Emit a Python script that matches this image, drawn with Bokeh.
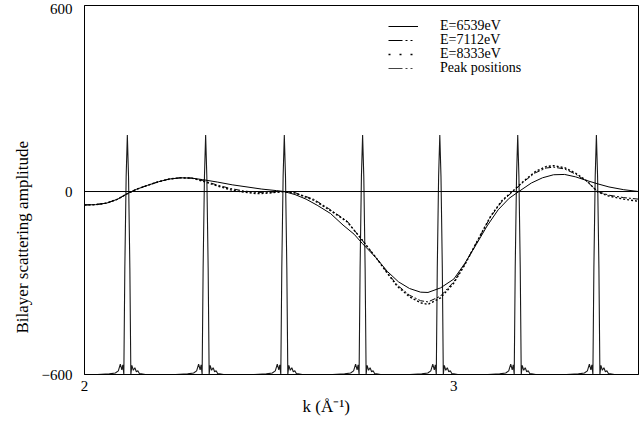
import numpy as np
from bokeh.plotting import figure
from bokeh.models import Range1d, FixedTicker, Span, Legend, LegendItem, Title
from bokeh.embed import file_html
from bokeh.resources import INLINE

# ---------------- data ----------------
k_6539 = [2.00, 2.03, 2.06, 2.09, 2.116, 2.14, 2.17, 2.20, 2.23, 2.26, 2.29, 2.32, 2.36,
          2.40, 2.44, 2.48, 2.52, 2.54, 2.57, 2.60, 2.63, 2.666, 2.70, 2.73, 2.752, 2.79,
          2.82, 2.85, 2.88, 2.91, 2.93, 2.964, 3.00, 3.03, 3.06, 3.09, 3.12, 3.15, 3.176,
          3.21, 3.24, 3.27, 3.30, 3.33, 3.36, 3.39, 3.42, 3.46, 3.50]
a_6539 = [-44, -43, -38, -25, -7, 7, 20, 32, 41, 45, 44, 39, 31,
          22, 15, 8, 3, 0, -10, -25, -45, -72, -110, -140, -170, -218,
          -262, -296, -318, -330, -331, -316, -287, -235, -175, -113, -60, -22, 0,
          28, 45, 55, 56, 48, 36, 25, 15, 6, 0]

k_7112 = [2.00, 2.03, 2.06, 2.09, 2.116, 2.14, 2.17, 2.20, 2.23, 2.26, 2.29, 2.32, 2.36,
          2.395, 2.43, 2.468, 2.50, 2.54, 2.57, 2.62, 2.66, 2.711, 2.752, 2.79, 2.82, 2.847,
          2.88, 2.91, 2.93, 2.964, 3.00, 3.03, 3.06, 3.10, 3.13, 3.16, 3.19, 3.22, 3.25,
          3.27, 3.30, 3.33, 3.36, 3.39, 3.42, 3.46, 3.50]
a_7112 = [-44, -43, -38, -25, -7, 7, 20, 32, 41, 45, 44, 36, 21,
          10, 2, -3, -2, 0, -4, -25, -55, -97, -160, -218, -266, -307,
          -340, -358, -362, -343, -296, -238, -170, -82, -33, 0, 33, 61, 77,
          80, 74, 57, 33, 0, -12, -20, -25]

k_8333 = [2.00, 2.03, 2.06, 2.09, 2.116, 2.14, 2.17, 2.20, 2.23, 2.26, 2.29, 2.32, 2.36,
          2.395, 2.43, 2.468, 2.50, 2.54, 2.57, 2.62, 2.66, 2.711, 2.752, 2.79, 2.82, 2.847,
          2.88, 2.91, 2.93, 2.964, 3.00, 3.03, 3.06, 3.10, 3.13, 3.158, 3.19, 3.22, 3.25,
          3.27, 3.30, 3.33, 3.36, 3.39, 3.42, 3.46, 3.50]
a_8333 = [-44, -43, -38, -25, -7, 7, 20, 32, 41, 45, 44, 34, 18,
          6, -2, -7, -5, 0, -5, -28, -58, -99, -159, -218, -268, -311,
          -345, -365, -370, -349, -300, -240, -170, -80, -30, 0, 35, 65, 82,
          85, 78, 60, 35, -2, -15, -25, -32]

# Bragg peak positions and the spike profile around each one
peak_k = [2.116, 2.328, 2.541, 2.753, 2.962, 3.173, 3.386]
peak_offset = [-0.0812, -0.0487, -0.0325, -0.0244, -0.0190, -0.0149, -0.0122, -0.0095,
               -0.0068, -0.0032, 0.0, 0.0032, 0.0068, 0.0095, 0.0122, 0.0162, 0.0203,
               0.0244, 0.0284, 0.0325, 0.0379, 0.0487, 0.0812]
peak_profile = [-600, -598, -595, -588, -566, -585, -568, -600,
                -250, 50, 185, 50, -250, -600, -570, -586, -578,
                -591, -588, -597, -598, -600, -600]
peak_baseline = -600

k_range = (2.0, 3.5)
amp_range = (-600, 610)
x_ticks = [2, 3]
y_ticks = [-600, 0, 600]

labels = ["E=6539eV", "E=7112eV", "E=8333eV", "Peak positions"]

# ---------------- figure ----------------
FONT = "Liberation Serif"

p = figure(width=639, height=423, x_range=Range1d(*k_range), y_range=Range1d(*amp_range),
           output_backend="svg", toolbar_location=None,
           min_border_left=84, min_border_right=1, min_border_top=5, min_border_bottom=49)
p.background_fill_color = "white"
p.border_fill_color = "white"
p.outline_line_color = "black"
p.outline_line_width = 1
p.grid.visible = False

for ax, ticks, standoff in ((p.xaxis[0], x_ticks, 6), (p.yaxis[0], y_ticks, 12)):
    ax.ticker = FixedTicker(ticks=ticks)
    ax.major_tick_in = 0
    ax.major_tick_out = 0
    ax.minor_tick_in = 0
    ax.minor_tick_out = 0
    ax.axis_line_color = "black"
    ax.major_label_standoff = standoff
    ax.major_label_text_font = FONT
    ax.major_label_text_font_size = "15px"
    ax.major_label_text_color = "black"

# peak-position spikes
px, py = [k_range[0]], [peak_baseline]
for pk in peak_k:
    px += [pk + o for o in peak_offset]
    py += peak_profile
px.append(k_range[1])
py.append(peak_baseline)
p.line(px, py, line_color="#1a1a1a", line_width=1.1)

# scattering amplitude curves
p.line(k_6539, a_6539, line_color="black", line_width=1)
p.line(k_7112, a_7112, line_color="black", line_width=1, line_dash="6 2 2 2")
p.line(k_8333, a_8333, line_color="black", line_width=1.4, line_dash="2 2")

p.add_layout(Span(location=0, dimension="width", line_color="black", line_width=1))

# legend key samples (drawn only in the legend), one compact row each
nan = [np.nan]
keys = [
    p.line(nan, nan, line_color="black", line_width=1),
    p.line(nan, nan, line_color="black", line_width=1, line_dash="14 3 2 3 2 6"),
    p.line(nan, nan, line_color="black", line_width=1.5, line_dash="2 9"),
    p.line(nan, nan, line_color="#444444", line_width=1, line_dash="14 3 2 3 2 6"),
]
row_offsets = [340, 326, 312, 298]
for text, r, vy in zip(labels, keys, row_offsets):
    p.add_layout(Legend(items=[LegendItem(label=text, renderers=[r])],
                        location=(304, vy), border_line_color=None,
                        background_fill_alpha=0, padding=0, margin=0, spacing=0,
                        glyph_width=30, glyph_height=12, label_height=12,
                        label_standoff=22, label_text_font=FONT,
                        label_text_font_size="14px", label_text_line_height=1.0,
                        label_text_color="black"))

# axis titles
p.add_layout(Title(text="k (Å⁻¹)", align="left", offset=218, text_font=FONT,
                   text_font_size="17px", text_font_style="normal", text_color="black",
                   standoff=3), "below")
p.add_layout(Title(text="Bilayer scattering amplitude", align="left", offset=41,
                   text_font=FONT, text_font_size="17px", text_font_style="normal",
                   text_color="black", standoff=14), "left")

open("out.html", "w").write(file_html(p, INLINE))
